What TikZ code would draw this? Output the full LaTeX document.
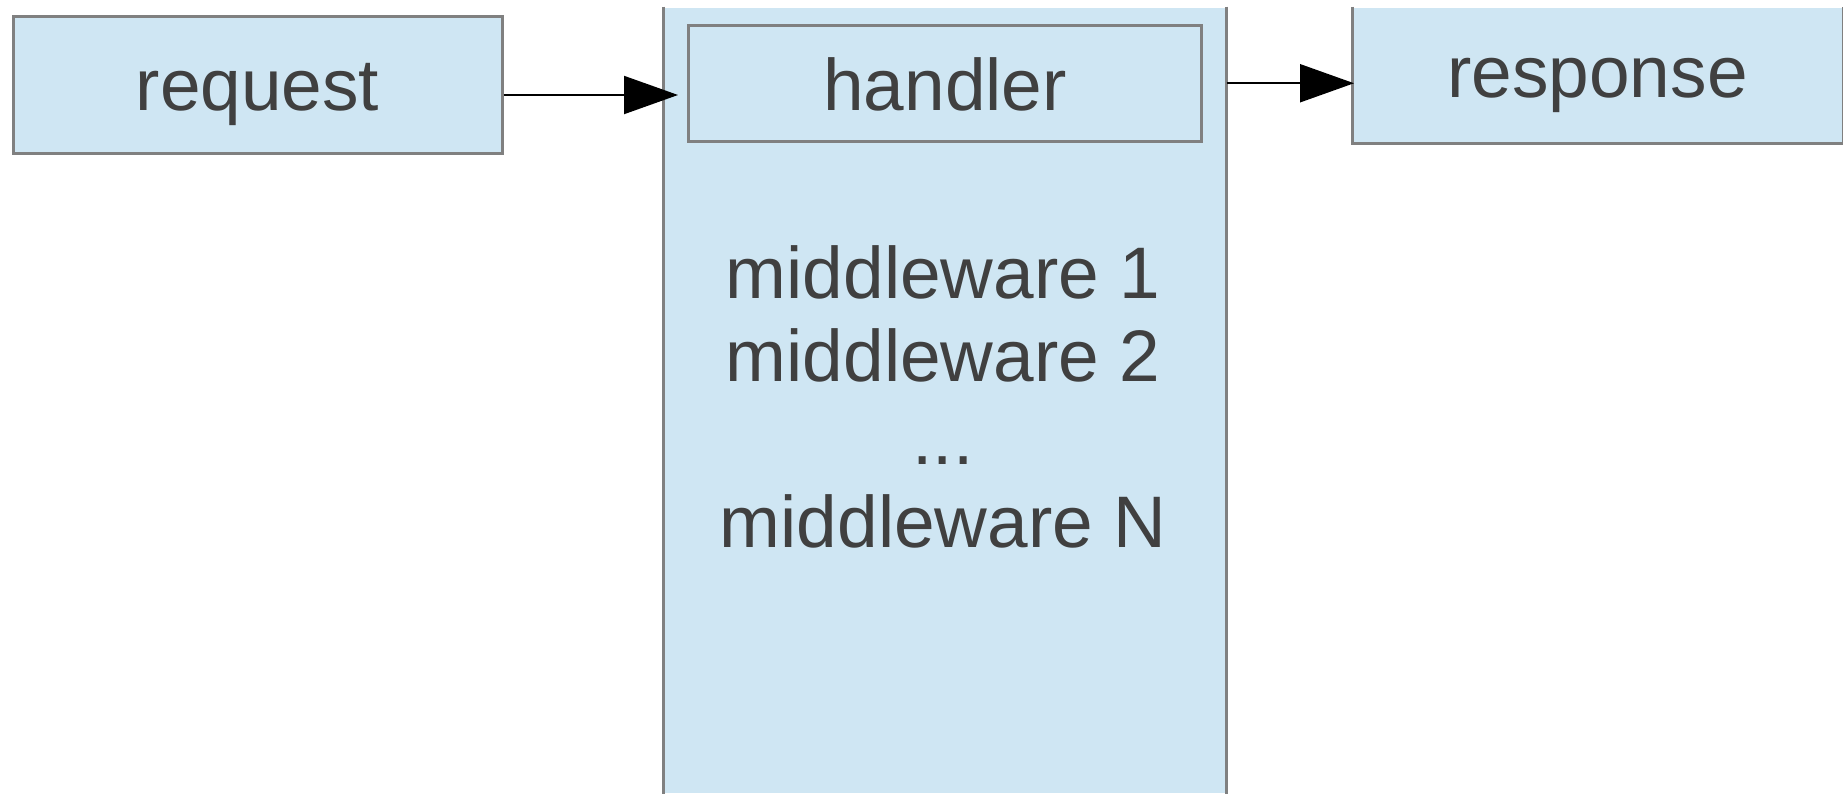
\documentclass[tikz,border=0pt]{standalone}
\usepackage{fontspec}
\setmainfont{Liberation Sans}
\usetikzlibrary{arrows.meta}

\definecolor{boxfill}{RGB}{207,230,243}
\definecolor{boxline}{RGB}{128,128,128}
\definecolor{txtgray}{RGB}{64,64,64}

\tikzset{
  box/.style={rectangle, fill=boxfill, draw=boxline, line width=3pt, inner sep=0pt,
              text=txtgray, font=\fontsize{73}{83}\selectfont, text depth=0pt},
  bare/.style={box, draw=none},
  side/.style={draw=boxline, line width=3pt},
  flow/.style={line width=2pt, -{Triangle[length=54pt, width=38pt]}},
  mw/.style={text=txtgray, font=\fontsize{73}{83}\selectfont, anchor=base, inner sep=0pt}
}

\begin{document}
\begin{tikzpicture}[x=1pt, y=-1pt]
    \useasboundingbox (0,0) rectangle (1843,793);

    % middleware stack, cut off at top and bottom
    \node[bare, minimum width=560.5pt, minimum height=785pt] (stack) at (944.75, 400.5) {};
    \draw[side] (stack.north west) -- (stack.south west);
    \draw[side] (stack.north east) -- (stack.south east);

    \node[box, minimum width=489pt, minimum height=137pt, text height=51pt] (request) at (257.5, 84.5) {request};
    \node[box, minimum width=513pt, minimum height=116.5pt, text height=53.5pt] (handler) at (945, 83.25) {handler};

    \node[bare, minimum width=488pt, minimum height=133.5pt, text height=44.5pt] (response) at (1597.5, 74.75) {response};
    \draw[side] (response.north west) -- (response.south west) -- (response.south east) -- (response.north east);

    \node[mw] (mwone) at (943, 298) {middleware 1};
    \node[mw] (mwtwo) at (943, 381) {middleware 2};
    \node[mw] (mwdots) at (943, 464) {...};
    \node[mw] (mwn) at (943, 547) {middleware N};

    \draw[flow] ([yshift=-10.5pt]request.east) -- ([yshift=-10.5pt, xshift=-9pt]request.east -| handler.west);
    \draw[flow] (handler.east -| stack.east) -- ([xshift=2pt]handler.east -| response.west);
\end{tikzpicture}
\end{document}
